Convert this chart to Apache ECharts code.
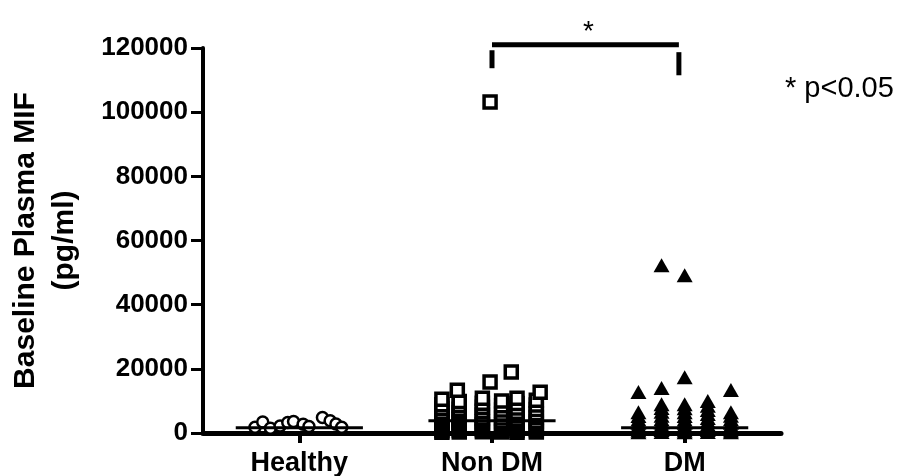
<!DOCTYPE html>
<html>
<head>
<meta charset="utf-8">
<script src="https://cdn.jsdelivr.net/npm/echarts@6/dist/echarts.min.js"></script>
<style>html,body{margin:0;padding:0;background:#fff}#c{width:907px;height:476px}</style>
</head>
<body>
<div id="c"></div>
<script>
// ---- data ----
const categories = ['Healthy', 'Non DM', 'DM'];
const yTickLabels = ['0', '20000', '40000', '60000', '80000', '100000', '120000'];
const yTitle = 'Baseline Plasma MIF\n(pg/ml)';

// within-group horizontal jitter (category units) and values (pg/ml)
const healthyOffset = [-0.23, -0.19, -0.15, -0.10, -0.06, -0.03, 0.02, 0.05, 0.12, 0.16, 0.19, 0.22];
const healthyValue  = [1800, 3400, 1500, 2200, 3300, 3600, 2700, 2000, 4800, 3800, 2800, 1800];

const nonDmOffset = [
  -0.26,-0.26,-0.26,-0.26,-0.26,-0.26,-0.26,-0.26,-0.26,-0.26,-0.26,-0.26,
  -0.17,-0.17,-0.17,-0.17,-0.17,-0.17,-0.17,-0.17,-0.17,-0.17,-0.17,-0.18,
  -0.05,-0.05,-0.05,-0.05,-0.05,-0.05,-0.05,-0.05,-0.05,-0.05,-0.05,
  -0.01,-0.01,
  0.05,0.05,0.05,0.05,0.05,0.05,0.05,0.05,0.05,0.05,
  0.10,
  0.13,0.13,0.13,0.13,0.13,0.13,0.13,0.13,0.13,0.13,0.13,
  0.23,0.23,0.23,0.23,0.23,0.23,0.23,0.23,0.23,0.23,
  0.25
];
const nonDmValue = [
  200,700,1300,2000,2800,3600,4500,5500,6500,7600,8800,10500,
  300,900,1600,2400,3300,4200,5200,6300,7400,8600,9800,13300,
  400,1000,1800,2600,3500,4500,5600,6800,8000,9300,10800,
  15900,103200,
  300,900,1700,2600,3600,4700,5900,7200,8500,10000,
  19000,
  200,800,1500,2300,3200,4200,5300,6500,7800,9200,10800,
  300,1000,1800,2700,3700,4800,6000,7300,8700,10200,
  12700
];

const dmOffset = [
  -0.24,-0.24,-0.24,-0.24,-0.24,-0.24,-0.24,-0.24,-0.24,
  -0.12,-0.12,-0.12,-0.12,-0.12,-0.12,-0.12,-0.12,-0.12,-0.12,-0.12,-0.12,
  0.00,0.00,0.00,0.00,0.00,0.00,0.00,0.00,0.00,0.00,0.00,0.00,
  0.12,0.12,0.12,0.12,0.12,0.12,0.12,0.12,0.12,0.12,
  0.24,0.24,0.24,0.24,0.24,0.24,0.24,0.24,0.24
];
const dmValue = [
  200,800,1500,2300,3200,4200,5300,6500,12800,
  300,900,1600,2400,3300,4300,5400,6600,7800,9000,14000,52300,
  200,800,1500,2300,3200,4200,5300,6500,7700,9000,17400,49200,
  300,900,1700,2600,3600,4700,5900,7200,8500,10000,
  200,800,1500,2300,3200,4300,5400,6500,13400
];

const medians = [1650, 3800, 1650];
const significance = '*';
const pNote = '* p<0.05';

// ---- build ----
const FONT = "'Liberation Sans', Arial, Helvetica, sans-serif";
const chart = echarts.init(document.getElementById('c'), null, {renderer: 'canvas'});

function pts(offsets, values, group) {
  return values.map((v, i) => [group + 0.5 + offsets[i], v]);
}
function medianLine(group, value) {
  return {
    type: 'line', xAxisIndex: 1, yAxisIndex: 0, symbol: 'none', silent: true, z: 5,
    lineStyle: {color: '#000', width: 3},
    data: [[group + 0.5 - 0.33, value], [group + 0.5 + 0.33, value]]
  };
}

chart.setOption({
  animation: false,
  backgroundColor: '#fff',
  grid: {left: 203, right: 126, top: 48, bottom: 43, containLabel: false, outerBoundsMode: 'none'},
  xAxis: [
    {
      type: 'category', data: categories, boundaryGap: true,
      axisLine: {show: true, lineStyle: {color: '#000', width: 5}},
      axisTick: {show: true, alignWithLabel: true, length: 10, lineStyle: {color: '#000', width: 4}},
      axisLabel: {color: '#000', fontFamily: FONT, fontWeight: 'bold', fontSize: 27, margin: 17},
      splitLine: {show: false}
    },
    {type: 'value', min: 0, max: 3, show: false}
  ],
  yAxis: [{
    type: 'value', min: 0, max: 120000, interval: 20000,
    name: yTitle, nameLocation: 'middle', nameGap: 119, nameRotate: 90,
    nameTextStyle: {color: '#000', fontFamily: FONT, fontWeight: 'bold', fontSize: 30, lineHeight: 39},
    axisLine: {show: true, lineStyle: {color: '#000', width: 4}},
    axisTick: {show: true, length: 12, lineStyle: {color: '#000', width: 3}},
    axisLabel: {color: '#000', fontFamily: FONT, fontWeight: 'bold', fontSize: 26, margin: 15,
      formatter: (v) => yTickLabels[Math.round(v / 20000)] ?? String(v)},
    splitLine: {show: false}
  }],
  series: [
    {
      type: 'scatter', xAxisIndex: 1, yAxisIndex: 0, symbol: 'circle', symbolSize: 11,
      itemStyle: {color: '#fff', borderColor: '#000', borderWidth: 2.5, opacity: 1},
      data: pts(healthyOffset, healthyValue, 0)
    },
    {
      type: 'scatter', xAxisIndex: 1, yAxisIndex: 0, symbol: 'rect', symbolSize: 12,
      itemStyle: {color: '#fff', borderColor: '#000', borderWidth: 3.5, opacity: 1},
      data: pts(nonDmOffset, nonDmValue, 1)
    },
    {
      type: 'scatter', xAxisIndex: 1, yAxisIndex: 0, symbol: 'triangle', symbolSize: [16, 14],
      itemStyle: {color: '#000', opacity: 1},
      data: pts(dmOffset, dmValue, 2)
    },
    medianLine(0, medians[0]),
    medianLine(1, medians[1]),
    medianLine(2, medians[2])
  ]
});

// significance bracket (annotation) placed through the axes
const P = (x, y) => chart.convertToPixel({xAxisIndex: 1, yAxisIndex: 0}, [x, y]);
const hL = P(1.5, 121000), hR = P(2.47, 121000);
const lT = P(1.5, 119300), lB = P(1.5, 113700);
const rT = P(2.47, 118700), rB = P(2.47, 111500);
const st = P(2.0, 121000);
chart.setOption({
  graphic: [
    {type: 'line', shape: {x1: hL[0], y1: hL[1], x2: hR[0], y2: hR[1]}, style: {stroke: '#000', lineWidth: 5}},
    {type: 'line', shape: {x1: lT[0], y1: lT[1], x2: lB[0], y2: lB[1]}, style: {stroke: '#000', lineWidth: 5}},
    {type: 'line', shape: {x1: rT[0], y1: rT[1], x2: rB[0], y2: rB[1]}, style: {stroke: '#000', lineWidth: 5}},
    {type: 'text', x: st[0], y: st[1] + 1, style: {text: significance, font: '28px ' + FONT, fill: '#000', textAlign: 'center', textVerticalAlign: 'bottom'}},
    {type: 'text', x: 785, y: 103, style: {text: pNote, font: '29px ' + FONT, fill: '#000', textAlign: 'left', textVerticalAlign: 'bottom'}}
  ]
});
</script>
</body>
</html>
